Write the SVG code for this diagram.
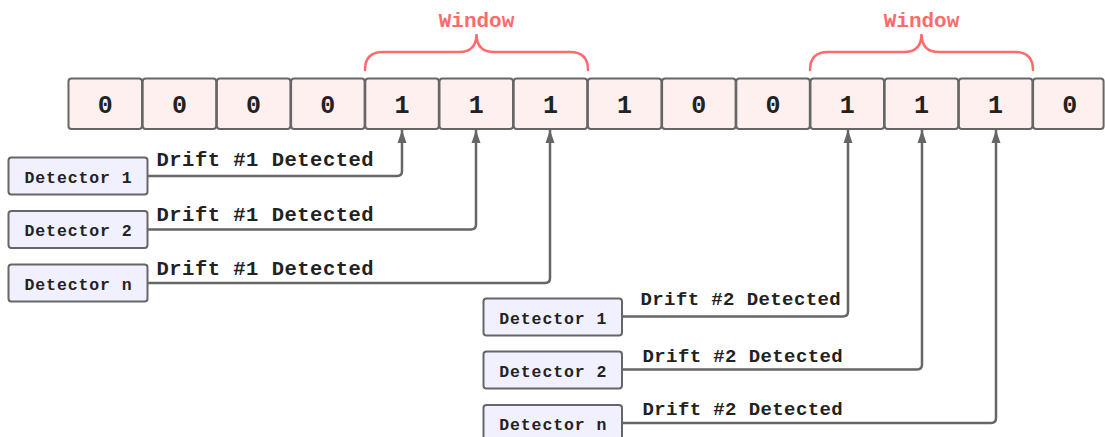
<svg xmlns="http://www.w3.org/2000/svg" width="1105" height="437" viewBox="0 0 1105 437">
<style>
.cell rect{fill:#FFF0F0;stroke:#666;stroke-width:2}
.cell text{font-family:"Liberation Mono",monospace;font-weight:bold;font-size:25px;fill:#222;text-anchor:middle}
.win{font-family:"Liberation Mono",monospace;font-weight:bold;font-size:21px;fill:#FF6B6B;text-anchor:middle}
.brace{fill:none;stroke:#FF6B6B;stroke-width:2.5;stroke-linecap:round}
.det rect{fill:#F0F0FF;stroke:#666;stroke-width:2}
.det text{font-family:"Liberation Mono",monospace;font-weight:bold;font-size:16.5px;letter-spacing:0.9px;fill:#222;text-anchor:middle}
.conn path{fill:none;stroke:#666;stroke-width:2.5}
.lbl1{font-family:"Liberation Mono",monospace;font-weight:bold;font-size:20.5px;letter-spacing:0.5px;fill:#222}
.lbl2{font-family:"Liberation Mono",monospace;font-weight:bold;font-size:19px;letter-spacing:0.4px;fill:#222}
</style>
<defs>
<marker id="arr" markerUnits="userSpaceOnUse" markerWidth="14" markerHeight="14" viewBox="0 0 14 10" refX="13" refY="5" orient="auto">
<path d="M0,0.5 L13,5 L0,9.5 Z" fill="#666"/>
</marker>
</defs>
<rect width="1105" height="437" fill="#fff"/>
<g id="cells">
<g class="cell" id="c0"><rect x="68.5" y="78.5" width="73.5" height="50.5" rx="3"/><text x="105.2" y="113">0</text></g>
<g class="cell" id="c1"><rect x="142.7" y="78.5" width="73.5" height="50.5" rx="3"/><text x="179.4" y="113">0</text></g>
<g class="cell" id="c2"><rect x="216.9" y="78.5" width="73.5" height="50.5" rx="3"/><text x="253.6" y="113">0</text></g>
<g class="cell" id="c3"><rect x="291.1" y="78.5" width="73.5" height="50.5" rx="3"/><text x="327.8" y="113">0</text></g>
<g class="cell" id="c4"><rect x="365.3" y="78.5" width="73.5" height="50.5" rx="3"/><text x="402" y="113">1</text></g>
<g class="cell" id="c5"><rect x="439.5" y="78.5" width="73.5" height="50.5" rx="3"/><text x="476.2" y="113">1</text></g>
<g class="cell" id="c6"><rect x="513.7" y="78.5" width="73.5" height="50.5" rx="3"/><text x="550.4" y="113">1</text></g>
<g class="cell" id="c7"><rect x="587.9" y="78.5" width="73.5" height="50.5" rx="3"/><text x="624.6" y="113">1</text></g>
<g class="cell" id="c8"><rect x="662.1" y="78.5" width="73.5" height="50.5" rx="3"/><text x="698.8" y="113">0</text></g>
<g class="cell" id="c9"><rect x="736.3" y="78.5" width="73.5" height="50.5" rx="3"/><text x="773" y="113">0</text></g>
<g class="cell" id="c10"><rect x="810.5" y="78.5" width="73.5" height="50.5" rx="3"/><text x="847.2" y="113">1</text></g>
<g class="cell" id="c11"><rect x="884.7" y="78.5" width="73.5" height="50.5" rx="3"/><text x="921.4" y="113">1</text></g>
<g class="cell" id="c12"><rect x="958.9" y="78.5" width="73.5" height="50.5" rx="3"/><text x="995.6" y="113">1</text></g>
<g class="cell" id="c13"><rect x="1033.1" y="78.5" width="70.5" height="50.5" rx="3"/><text x="1069.8" y="113">0</text></g>
</g>
<g id="window1">
<path class="brace" d="M365,70 Q365,52 383,52 L459,52 Q476.5,52 476.5,34 Q476.5,52 494,52 L570,52 Q588,52 588,70"/>
<text class="win" x="476.5" y="27">Window</text>
</g>
<g id="window2">
<path class="brace" d="M810,70 Q810,52 828,52 L904,52 Q921.5,52 921.5,34 Q921.5,52 939,52 L1015,52 Q1033,52 1033,70"/>
<text class="win" x="921.5" y="27">Window</text>
</g>
<g id="connectors" class="conn">
<path d="M147.5,176 H397 Q402,176 402,171 V130" marker-end="url(#arr)"/>
<path d="M147.5,229.5 H471 Q476,229.5 476,224.5 V130" marker-end="url(#arr)"/>
<path d="M147.5,283 H545 Q550,283 550,278 V130" marker-end="url(#arr)"/>
<path d="M622,316.5 H843 Q848,316.5 848,311.5 V130" marker-end="url(#arr)"/>
<path d="M622,369.5 H917 Q922,369.5 922,364.5 V130" marker-end="url(#arr)"/>
<path d="M622,423 H991 Q996,423 996,418 V130" marker-end="url(#arr)"/>
</g>
<g id="labels">
<text class="lbl1" x="156.5" y="166">Drift #1 Detected</text>
<text class="lbl1" x="156.5" y="221">Drift #1 Detected</text>
<text class="lbl1" x="156.5" y="274.5">Drift #1 Detected</text>
<text class="lbl2" x="640.5" y="305">Drift #2 Detected</text>
<text class="lbl2" x="642.5" y="362">Drift #2 Detected</text>
<text class="lbl2" x="642.5" y="415">Drift #2 Detected</text>
</g>
<g id="det1a" class="det"><rect x="8.5" y="157.5" width="139" height="37" rx="3"/><text x="78.5" y="182.5">Detector 1</text></g>
<g id="det2a" class="det"><rect x="8.5" y="211" width="139" height="37" rx="3"/><text x="78.5" y="236">Detector 2</text></g>
<g id="detna" class="det"><rect x="8.5" y="264.5" width="139" height="37" rx="3"/><text x="78.5" y="289.5">Detector n</text></g>
<g id="det1b" class="det"><rect x="483.5" y="298.5" width="138.5" height="37" rx="3"/><text x="553.2" y="323.5">Detector 1</text></g>
<g id="det2b" class="det"><rect x="483.5" y="351.5" width="138.5" height="37" rx="3"/><text x="553.2" y="376.5">Detector 2</text></g>
<g id="detnb" class="det"><rect x="483.5" y="405" width="138.5" height="37" rx="3"/><text x="553.2" y="430">Detector n</text></g>
</svg>
